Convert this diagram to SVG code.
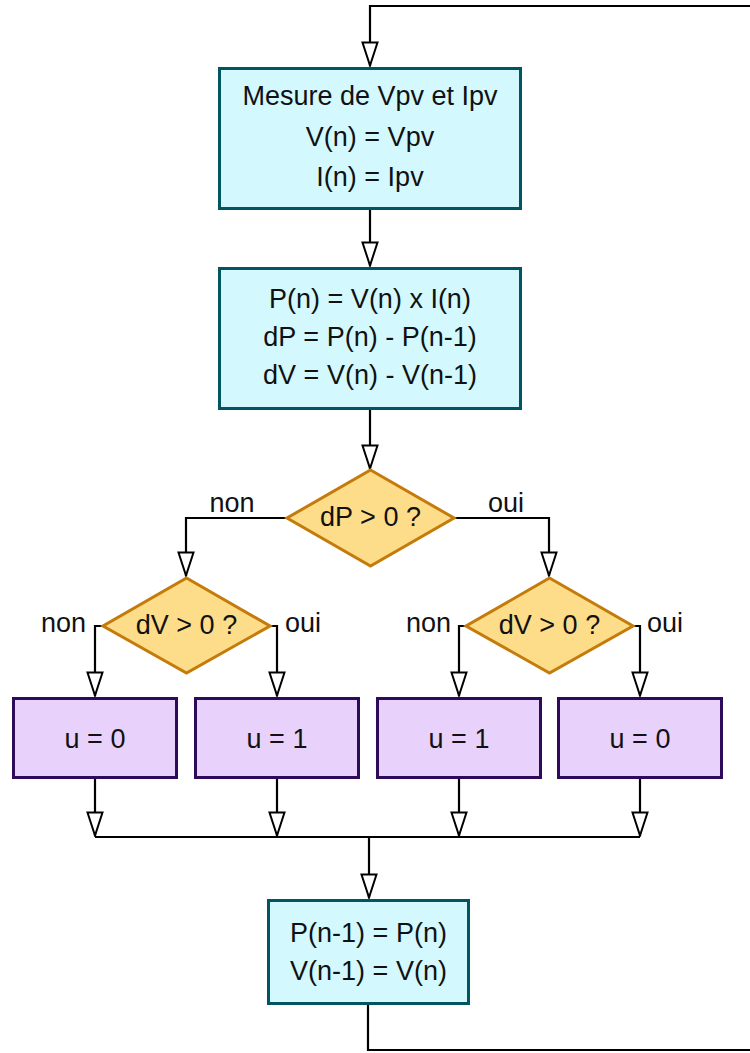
<svg xmlns="http://www.w3.org/2000/svg" width="750" height="1053" viewBox="0 0 750 1053">
<style>
  text { font-family: "Liberation Sans", Arial, sans-serif; font-size: 27px; fill: #111; text-anchor: middle; }
  .proc { fill: #d3f9fe; stroke: #005560; stroke-width: 3; }
  .dec { fill: #fddc8a; stroke: #c47b0a; stroke-width: 3; }
  .act { fill: #e8d2fc; stroke: #2d0b5a; stroke-width: 3; }
  .con { fill: none; stroke: #000; stroke-width: 2.2; }
  .arr { marker-end: url(#ah); }
  .lbl-end { text-anchor: end; }
  .lbl-start { text-anchor: start; }
</style>
<defs>
  <marker id="ah" viewBox="0 0 26 18" refX="25" refY="9" markerWidth="26" markerHeight="18" markerUnits="userSpaceOnUse" orient="auto">
    <path d="M1.5,1.5 L24.5,9 L1.5,16.5 Z" fill="#fff" stroke="#000" stroke-width="2"/>
  </marker>
</defs>
<rect width="750" height="1053" fill="#fff"/>

<g id="connectors">
  <path class="con arr" d="M368,1005 V1050 H760 V6 H370 V66"/>
  <path class="con arr" d="M370,210 V266"/>
  <path class="con arr" d="M370,410 V469"/>
  <path class="con arr" d="M287,518 H186 V576"/>
  <path class="con arr" d="M454,518 H549 V576"/>
  <path class="con arr" d="M103,626 H95 V696"/>
  <path class="con arr" d="M270,626 H277 V696"/>
  <path class="con arr" d="M466,626 H459 V696"/>
  <path class="con arr" d="M633,626 H640 V696"/>
  <path class="con arr" d="M95,779 V836"/>
  <path class="con arr" d="M277,779 V836"/>
  <path class="con arr" d="M459,779 V836"/>
  <path class="con arr" d="M640,779 V836"/>
  <path class="con" d="M95,837 H640"/>
  <path class="con arr" d="M369,837 V898"/>
  <text x="232" y="512">non</text>
  <text x="506" y="512">oui</text>
  <text class="lbl-end" x="86" y="632">non</text>
  <text class="lbl-start" x="285" y="632">oui</text>
  <text class="lbl-end" x="451" y="632">non</text>
  <text class="lbl-start" x="647" y="632">oui</text>
</g>

<g id="mesure">
  <rect class="proc" x="219.5" y="68.5" width="301" height="140"/>
  <text x="370" y="105">Mesure de Vpv et Ipv</text>
  <text x="370" y="146">V(n) = Vpv</text>
  <text x="370" y="186">I(n) = Ipv</text>
</g>

<g id="calcul">
  <rect class="proc" x="219.5" y="268.5" width="301" height="140"/>
  <text x="370" y="308">P(n) = V(n) x I(n)</text>
  <text x="370" y="346">dP = P(n) - P(n-1)</text>
  <text x="370" y="384">dV = V(n) - V(n-1)</text>
</g>

<g id="test-dP">
  <polygon class="dec" points="370.5,470 454,518 370.5,566 287,518"/>
  <text x="370.5" y="526">dP &gt; 0 ?</text>
</g>

<g id="test-dV-gauche">
  <polygon class="dec" points="186.5,578 270,626 186.5,673 103,626"/>
  <text x="186.5" y="634">dV &gt; 0 ?</text>
</g>

<g id="test-dV-droite">
  <polygon class="dec" points="549.5,578 633,626 549.5,673 466,626"/>
  <text x="549.5" y="634">dV &gt; 0 ?</text>
</g>

<g id="u0-gauche">
  <rect class="act" x="13.5" y="698.5" width="163" height="79"/>
  <text x="95" y="748">u = 0</text>
</g>
<g id="u1-gauche">
  <rect class="act" x="195.5" y="698.5" width="163" height="79"/>
  <text x="277" y="748">u = 1</text>
</g>
<g id="u1-droite">
  <rect class="act" x="377.5" y="698.5" width="163" height="79"/>
  <text x="459" y="748">u = 1</text>
</g>
<g id="u0-droite">
  <rect class="act" x="558.5" y="698.5" width="163" height="79"/>
  <text x="640" y="748">u = 0</text>
</g>

<g id="memoire">
  <rect class="proc" x="268.5" y="900.5" width="200" height="103"/>
  <text x="368.5" y="942">P(n-1) = P(n)</text>
  <text x="368.5" y="980">V(n-1) = V(n)</text>
</g>
</svg>
